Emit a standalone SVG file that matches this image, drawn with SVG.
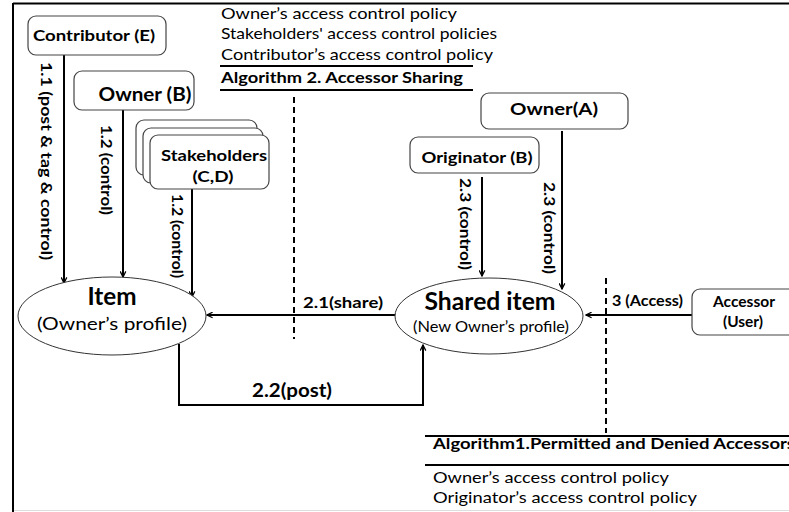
<svg xmlns="http://www.w3.org/2000/svg" width="789" height="512" viewBox="0 0 789 512">
<style>
.box{fill:#fff;stroke:#444;stroke-width:1.2}
.ell{fill:#fff;stroke:#333;stroke-width:1}
.t{font-family:Lato,"Open Sans","Liberation Sans",sans-serif;fill:#000}
.b{font-weight:bold}
.c{text-anchor:middle}
.ln{fill:none;stroke:#000;stroke-width:2}
.dash{fill:none;stroke:#000;stroke-width:2;stroke-dasharray:6,4}
</style>
<defs>
<marker id="arr" viewBox="0 0 10 10" refX="9" refY="5" markerWidth="7" markerHeight="7" orient="auto" markerUnits="userSpaceOnUse">
<path d="M1,1 L9,5 L1,9" fill="none" stroke="#000" stroke-width="1.8"/>
</marker>
</defs>
<rect width="789" height="512" fill="#fff"/>
<g id="frame">
<line x1="13" y1="3.5" x2="789" y2="3.5" stroke="#000" stroke-width="2"/>
<line x1="13" y1="3" x2="13" y2="512" stroke="#000" stroke-width="2"/>
<line x1="14" y1="510.5" x2="789" y2="510.5" stroke="#ddd" stroke-width="1"/>
</g>
<g id="policies-top">
<text class="t" x="221" y="19" font-size="16" textLength="236" lengthAdjust="spacingAndGlyphs">Owner’s access control policy</text>
<text class="t" x="221" y="39" font-size="16" textLength="276" lengthAdjust="spacingAndGlyphs">Stakeholders' access control policies</text>
<text class="t" x="221" y="60" font-size="16" textLength="272" lengthAdjust="spacingAndGlyphs">Contributor’s access control policy</text>
<line x1="220" y1="66" x2="473" y2="66" stroke="#000" stroke-width="2"/>
<text class="t b" x="221" y="83" font-size="16" textLength="242" lengthAdjust="spacingAndGlyphs">Algorithm 2. Accessor Sharing</text>
<line x1="220" y1="90" x2="473" y2="90" stroke="#000" stroke-width="2"/>
</g>
<g id="policies-bottom">
<line x1="425" y1="436" x2="789" y2="436" stroke="#000" stroke-width="2"/>
<text class="t b" x="433" y="449" font-size="16" textLength="362" lengthAdjust="spacingAndGlyphs">Algorithm1.Permitted and Denied Accessors</text>
<line x1="425" y1="465" x2="789" y2="465" stroke="#000" stroke-width="2"/>
<text class="t" x="433" y="483" font-size="16" textLength="236" lengthAdjust="spacingAndGlyphs">Owner’s access control policy</text>
<text class="t" x="433" y="503" font-size="16" textLength="264" lengthAdjust="spacingAndGlyphs">Originator’s access control policy</text>
</g>
<g id="connectors">
<line class="ln" x1="64" y1="55" x2="64" y2="283" marker-end="url(#arr)"/>
<line class="ln" x1="123" y1="110" x2="123" y2="277" marker-end="url(#arr)"/>
<line class="ln" x1="192" y1="189" x2="192" y2="297" marker-end="url(#arr)"/>
<line class="ln" x1="396" y1="315" x2="207" y2="315" marker-end="url(#arr)"/>
<polyline class="ln" points="179,344 179,405 423,405 423,345" marker-end="url(#arr)"/>
<line class="ln" x1="482" y1="177" x2="482" y2="276" marker-end="url(#arr)"/>
<line class="ln" x1="562" y1="131" x2="562" y2="289" marker-end="url(#arr)"/>
<line class="ln" x1="692" y1="315" x2="586" y2="315" marker-end="url(#arr)"/>
<line class="dash" x1="294" y1="97" x2="294" y2="339"/>
<line class="dash" x1="606" y1="278" x2="606" y2="433"/>
<text class="t b c" font-size="16" transform="translate(47,161) rotate(90)" dominant-baseline="central" textLength="198" lengthAdjust="spacingAndGlyphs">1.1 (post &amp; tag &amp; control)</text>
<text class="t b c" font-size="16" transform="translate(107,170) rotate(90)" dominant-baseline="central" textLength="90" lengthAdjust="spacingAndGlyphs">1.2 (control)</text>
<text class="t b c" font-size="16" transform="translate(178,236) rotate(90)" dominant-baseline="central" textLength="84" lengthAdjust="spacingAndGlyphs">1.2 (control)</text>
<text class="t b c" font-size="16" transform="translate(466,224) rotate(90)" dominant-baseline="central" textLength="92" lengthAdjust="spacingAndGlyphs">2.3 (control)</text>
<text class="t b c" font-size="16" transform="translate(550,228) rotate(90)" dominant-baseline="central" textLength="92" lengthAdjust="spacingAndGlyphs">2.3 (control)</text>
<text class="t b" x="303" y="308" font-size="16" textLength="80" lengthAdjust="spacingAndGlyphs">2.1(share)</text>
<text class="t b" x="612" y="306" font-size="15" textLength="71" lengthAdjust="spacingAndGlyphs">3 (Access)</text>
<text class="t b c" x="292" y="397" font-size="18" textLength="80" lengthAdjust="spacingAndGlyphs">2.2(post)</text>
</g>
<g id="contributor">
<rect class="box" x="28" y="16" width="138" height="39" rx="8"/>
<text class="t b c" x="94" y="41" font-size="16" textLength="122" lengthAdjust="spacingAndGlyphs">Contributor (E)</text>
</g>
<g id="owner-b">
<rect class="box" x="74" y="71" width="120" height="39" rx="8"/>
<text class="t b c" x="145" y="101" font-size="18" textLength="93" lengthAdjust="spacingAndGlyphs">Owner (B)</text>
</g>
<g id="stakeholders">
<rect class="box" x="136" y="120" width="121" height="55" rx="8"/>
<rect class="box" x="143" y="128" width="120" height="55" rx="8"/>
<rect class="box" x="150" y="135" width="119" height="54" rx="8"/>
<text class="t b c" x="214" y="161" font-size="16" textLength="106" lengthAdjust="spacingAndGlyphs">Stakeholders</text>
<text class="t b c" x="213" y="182" font-size="16" textLength="41" lengthAdjust="spacingAndGlyphs">(C,D)</text>
</g>
<g id="item">
<ellipse class="ell" cx="112" cy="316" rx="94" ry="39"/>
<text class="t b c" x="112" y="305" font-size="24" textLength="49" lengthAdjust="spacingAndGlyphs">Item</text>
<text class="t c" x="112" y="330" font-size="18" textLength="150" lengthAdjust="spacingAndGlyphs">(Owner’s profile)</text>
</g>
<g id="shared-item">
<ellipse class="ell" cx="489" cy="316" rx="94" ry="38"/>
<text class="t b c" x="490" y="310" font-size="24" textLength="131" lengthAdjust="spacingAndGlyphs">Shared item</text>
<text class="t c" x="491" y="332" font-size="15" textLength="156" lengthAdjust="spacingAndGlyphs">(New Owner’s profile)</text>
</g>
<g id="originator-b">
<rect class="box" x="410" y="137" width="129" height="36" rx="8"/>
<text class="t b c" x="477" y="163" font-size="16" textLength="111" lengthAdjust="spacingAndGlyphs">Originator (B)</text>
</g>
<g id="owner-a">
<rect class="box" x="481" y="93" width="147" height="36" rx="8"/>
<text class="t b c" x="554" y="115" font-size="17" textLength="88" lengthAdjust="spacingAndGlyphs">Owner(A)</text>
</g>
<g id="accessor">
<rect class="box" x="692" y="289" width="110" height="46" rx="8"/>
<text class="t b c" x="744" y="307" font-size="15" textLength="62" lengthAdjust="spacingAndGlyphs">Accessor</text>
<text class="t b c" x="743" y="327" font-size="15" textLength="40" lengthAdjust="spacingAndGlyphs">(User)</text>
</g>
</svg>
